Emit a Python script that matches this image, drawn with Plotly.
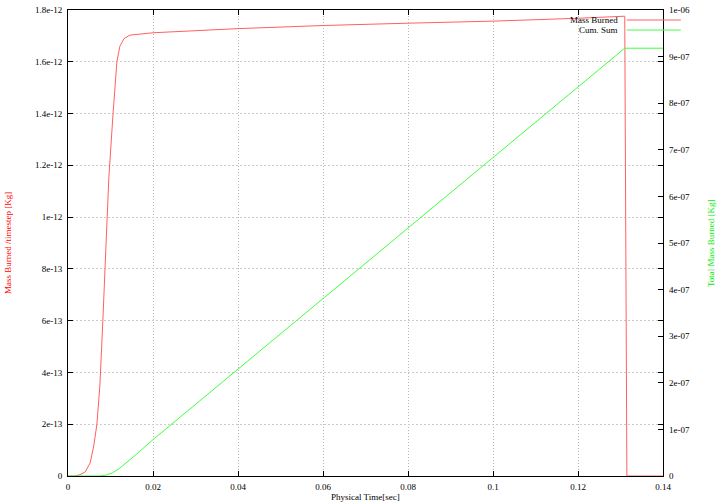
import plotly.graph_objects as go

# Mass burned per timestep [Kg]
t_mass = [0.0, 0.0016, 0.0028, 0.004, 0.0052, 0.0061, 0.0068, 0.0075, 0.0082, 0.0089,
          0.0096, 0.0106, 0.0115, 0.0122, 0.0132, 0.0146, 0.017, 0.02, 0.04, 0.06,
          0.08, 0.1, 0.12, 0.131, 0.1315, 0.14]
mass = [0.0, 0.0, 0.005e-12, 0.015e-12, 0.05e-12, 0.12e-12, 0.2e-12, 0.35e-12, 0.6e-12, 0.9e-12,
        1.15e-12, 1.4e-12, 1.6e-12, 1.66e-12, 1.69e-12, 1.703e-12, 1.708e-12, 1.712e-12, 1.728e-12, 1.74e-12,
        1.749e-12, 1.757e-12, 1.768e-12, 1.776e-12, 0.0, 0.0]

# Cumulative sum [Kg]
t_cum = [0.0, 0.0075, 0.009, 0.0105, 0.0122, 0.014, 0.016, 0.02, 0.04, 0.06,
         0.08, 0.1, 0.12, 0.131, 0.14]
cum = [0.0, 0.0, 0.002e-6, 0.007e-6, 0.017e-6, 0.03e-6, 0.046e-6, 0.078e-6, 0.229e-6, 0.38e-6,
       0.532e-6, 0.683e-6, 0.835e-6, 0.918e-6, 0.918e-6]

x_ticks = [0, 0.02, 0.04, 0.06, 0.08, 0.1, 0.12, 0.14]
x_labels = ["0", "0.02", "0.04", "0.06", "0.08", "0.1", "0.12", "0.14"]
y1_ticks = [0, 2e-13, 4e-13, 6e-13, 8e-13, 1e-12, 1.2e-12, 1.4e-12, 1.6e-12, 1.8e-12]
y1_labels = ["0", "2e-13", "4e-13", "6e-13", "8e-13", "1e-12", "1.2e-12", "1.4e-12", "1.6e-12", "1.8e-12"]
y2_ticks = [0, 1e-7, 2e-7, 3e-7, 4e-7, 5e-7, 6e-7, 7e-7, 8e-7, 9e-7, 1e-6]
y2_labels = ["0", "1e-07", "2e-07", "3e-07", "4e-07", "5e-07", "6e-07", "7e-07", "8e-07", "9e-07", "1e-06"]

RED = "#ff6060"
GREEN = "#40ff40"
FONT = "Liberation Serif"

fig = go.Figure()
fig.add_trace(go.Scatter(x=t_mass, y=mass, mode="lines", name="Mass Burned",
                         line=dict(color=RED, width=1), yaxis="y"))
fig.add_trace(go.Scatter(x=t_cum, y=cum, mode="lines", name="Cum. Sum",
                         line=dict(color=GREEN, width=1), yaxis="y2"))

fig.update_layout(
    width=720, height=504,
    margin=dict(l=68, r=57, t=10, b=28, autoexpand=False),
    paper_bgcolor="white", plot_bgcolor="white",
    font=dict(family=FONT, size=9, color="black"),
    showlegend=False,
    xaxis=dict(range=[0, 0.14], tickvals=x_ticks, ticktext=x_labels, automargin=False,
               showgrid=True, gridcolor="#b8b8b8", griddash="1px,2px", gridwidth=1,
               showline=True, linecolor="black", linewidth=1, mirror="ticks",
               ticks="inside", ticklen=5, tickcolor="black", zeroline=False,
               ticklabeloverflow="allow", ticklabelstandoff=2),
    yaxis=dict(range=[0, 1.8e-12], tickvals=y1_ticks, ticktext=y1_labels, automargin=False,
               showgrid=True, gridcolor="#cccccc", griddash="2px,2px", gridwidth=1,
               showline=True, linecolor="black", linewidth=1, mirror="ticks",
               ticks="inside", ticklen=5, tickcolor="black", zeroline=False,
               ticklabeloverflow="allow", ticklabelstandoff=3),
    yaxis2=dict(range=[0, 1e-6], tickvals=y2_ticks, ticktext=y2_labels, automargin=False,
                overlaying="y", side="right", showgrid=False,
                showline=False, ticks="inside", ticklen=5, tickcolor="black", zeroline=False,
                ticklabeloverflow="allow", ticklabelstandoff=5),
)

# axis titles placed like gnuplot's
fig.add_annotation(x=-0.1008, y=0.5, xref="paper", yref="paper", text="Mass Burned /timestep [Kg]",
                   textangle=-90, showarrow=False, xanchor="center", yanchor="middle",
                   font=dict(family=FONT, size=9, color="red"))
fig.add_annotation(x=1.0807, y=0.5, xref="paper", yref="paper", text="Total Mass Burned [Kg]",
                   textangle=-90, showarrow=False, xanchor="center", yanchor="middle",
                   font=dict(family=FONT, size=9, color="#00ee00"))
fig.add_annotation(x=0.5, y=-0.045, xref="paper", yref="paper", text="Physical Time[sec]",
                   showarrow=False, xanchor="center", yanchor="middle",
                   font=dict(family=FONT, size=9, color="black"))

# gnuplot-style key (text right-aligned, sample to the right)
key = [("Mass Burned", RED, 0.9785), ("Cum. Sum", GREEN, 0.957)]
for label, col, yy in key:
    fig.add_annotation(x=0.928, y=yy, xref="paper", yref="paper", text=label,
                       showarrow=False, xanchor="right", yanchor="middle",
                       font=dict(family=FONT, size=9, color="black"))
    fig.add_shape(type="line", xref="paper", yref="paper", x0=0.939, x1=1.03, y0=yy, y1=yy,
                  line=dict(color=col, width=1))

fig.write_html("out.html", config={"displayModeBar": False},
               post_script="document.body.style.margin='0px';")
